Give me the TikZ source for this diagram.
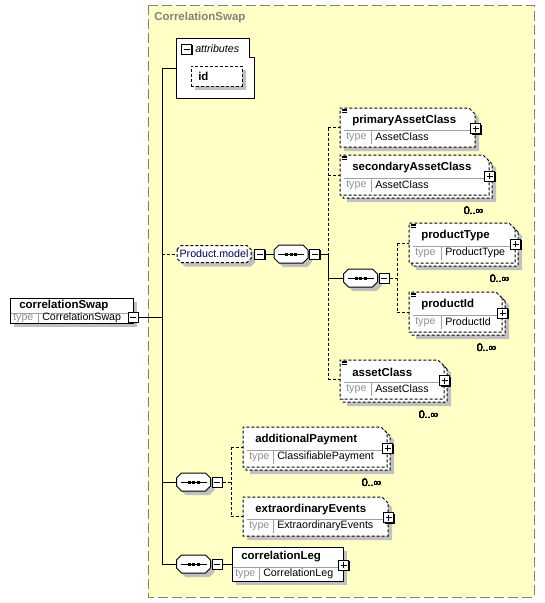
\documentclass[tikz,border=0pt]{standalone}
\usepackage{fontspec}
\setmainfont{Liberation Sans}
\usetikzlibrary{shapes.misc,fit,positioning}
\definecolor{boxyellow}{RGB}{255,255,198}
\definecolor{shadowgray}{RGB}{192,192,192}
\definecolor{framegray}{RGB}{128,128,128}
\definecolor{typegray}{RGB}{145,145,145}
\definecolor{linegray}{RGB}{160,160,160}
\definecolor{groupblue}{RGB}{0,0,90}
\tikzset{
    req/.style={draw, fill=white, line width=0.75pt},
    opt/.style={chamfered rectangle, chamfered rectangle corners=north east,
        chamfered rectangle sep=2.25pt, draw, fill=white, line width=0.75pt,
        dash pattern=on 2.25pt off 1.5pt},
    shade/.style={preaction={fill=shadowgray, transform canvas={shift={(4,4)}}}},
    many/.style={preaction={fill=shadowgray, transform canvas={shift={(7,7)}}},
        preaction={draw, fill=white, dash pattern=on 2.25pt off 1.5pt,
            transform canvas={shift={(3,3)}}}},
    divider/.style={draw=linegray, line width=0.75pt},
    elname/.style={font=\fontsize{8.6}{10}\selectfont\bfseries, inner sep=0pt, anchor=west},
    eltype/.style={font=\fontsize{8}{10}\selectfont, inner sep=0pt, anchor=west},
    typelbl/.style={eltype, text=typegray},
    mult/.style={font=\fontsize{8}{10}\selectfont, inner sep=0pt, anchor=east},
    btn/.style={draw, fill=white, line width=0.75pt, minimum size=7.5pt, inner sep=0pt,
        preaction={fill=black, transform canvas={shift={(1,1)}}}},
    plusbox/.style={btn, path picture={
        \draw[line width=0.75pt] ([xshift=1.5pt]path picture bounding box.west) -- ([xshift=-1.5pt]path picture bounding box.east)
            ([yshift=-1.5pt]path picture bounding box.north) -- ([yshift=1.5pt]path picture bounding box.south);}},
    minusbox/.style={btn, path picture={
        \draw[line width=0.75pt] ([xshift=1.5pt]path picture bounding box.west) -- ([xshift=-1.5pt]path picture bounding box.east);}},
    link/.style={line width=0.75pt},
    optlink/.style={line width=0.75pt, dash pattern=on 2.25pt off 1.5pt}
}
% element box: name, style, x1, y1, x2, y2, type divider, label, type
\newcommand{\typerow}{14}
\newcommand{\xsdelem}[9]{%
    \node[fit={(#3,#4) (#5,#6)}, inner sep=0pt, #2] (#1) {};
    \pgfmathsetmacro{\ydiv}{#6-\typerow}
    \draw[divider] (#3+0.5,\ydiv) -- (#5-0.5,\ydiv);
    \draw[divider] (#7,\ydiv) -- (#7,#6-0.5);
    \node[elname] at (#3+9,{(#4+\ydiv)/2}) {#8};
    \node[typelbl] at (#3+3,{(\ydiv+#6)/2}) {type};
    \node[eltype] at (#7+4,{(\ydiv+#6)/2}) {#9};
}
% octagon outline: half width, half height, chamfer
\newcommand{\octpath}[3]{(-#1,-#2+#3) -- (-#1+#3,-#2) -- (#1-#3,-#2) -- (#1,-#2+#3)
    -- (#1,#2-#3) -- (#1-#3,#2) -- (-#1+#3,#2) -- (-#1,#2-#3) -- cycle}
% sequence compositor: name, x, y
\newcommand{\xsdseq}[3]{%
    \begin{scope}[shift={(#2,#3)}]
        \fill[shadowgray, shift={(4,4)}] \octpath{17}{9}{5};
        \draw[fill=white, line width=0.75pt] \octpath{17}{9}{5};
        \draw[line width=0.75pt] (-13,0) -- (13,0);
        \foreach \d in {-4.5,0,4.5}
            \fill (\d-1.5,-1.5) rectangle (\d+1.5,1.5);
        \node[inner sep=0pt, minimum width=25.5pt, minimum height=13.5pt] (#1) at (0,0) {};
    \end{scope}
}
% annotation mark
\newcommand{\xsdnote}[1]{%
    \draw[line width=0.5pt] \foreach \k in {1.5,3,4.5} {([shift={(2,\k)}]#1.north west) -- ++(5,0)};
}

\begin{document}
\begin{tikzpicture}[x=0.75pt, y=-0.75pt]
\useasboundingbox (0,0) rectangle (545,603);
\fill[white] (0,0) rectangle (545,603);

% complex type frame
\draw[framegray, fill=boxyellow, line width=0.75pt, dash pattern=on 7.5pt off 3pt] (148,5) rectangle (534,597);
\node[font=\fontsize{8.6}{10}\selectfont\bfseries, text=framegray, anchor=west, inner sep=0pt] (title) at (154,18) {CorrelationSwap};

% root element
\renewcommand{\typerow}{10}
\xsdelem{csw}{req, shade}{10}{298}{133}{323}{38}{correlationSwap}{CorrelationSwap}
\renewcommand{\typerow}{14}
\node[minusbox] (csw-x) at (133,317) {};
\coordinate (trunk) at (162,68);

% attributes
\node[fit={(176,38) (254,98)}, inner sep=0pt] (attr) {};
\draw[fill=white, line width=0.75pt] (176,38) -- (249,38) -- (249,57) -- (254,57) -- (254,98) -- (176,98) -- cycle;
\node[minusbox] (attr-x) at (186.5,49) {};
\node[font=\fontsize{8}{10}\selectfont\itshape, anchor=west, inner sep=0pt] at (195,48.5) {attributes};
\node[fit={(191,66) (242,86)}, inner sep=0pt, draw, fill=white, line width=0.75pt,
    dash pattern=on 2.25pt off 1.5pt, shade] (id) {};
\node[elname] at (198,76) {id};

% Product.model group
\begin{scope}[shift={(214,254)}]
    \fill[shadowgray, shift={(4,4)}] \octpath{37}{8.5}{4};
    \draw[fill=white, line width=0.75pt, dash pattern=on 2.25pt off 1.5pt] \octpath{37}{8.5}{4};
    \node[inner sep=0pt, minimum width=55.5pt, minimum height=12.75pt,
        font=\fontsize{8}{10}\selectfont, text=groupblue] (pm) at (0,0) {Product.model};
\end{scope}
\node[minusbox, anchor=west] (pm-x) at ([shift={(3,0)}]pm.east) {};
\xsdseq{s1}{291}{254}
\node[minusbox, anchor=west] (s1-x) at ([shift={(1,0)}]s1.east) {};
\coordinate (b1) at (328,254);

\xsdelem{pac}{opt, shade}{343}{111}{472}{144}{371}{primaryAssetClass}{AssetClass}
\xsdelem{sac}{opt, many}{343}{158}{486}{192}{371}{secondaryAssetClass}{AssetClass}
\xsdelem{ac}{opt, many}{343}{363}{441}{396}{371}{assetClass}{AssetClass}

\xsdseq{s4}{360.5}{278}
\node[minusbox, anchor=west] (s4-x) at ([shift={(1,0)}]s4.east) {};
\coordinate (b2) at (397,278);
\xsdelem{pt}{opt, many}{412}{226}{512}{260}{441}{productType}{ProductType}
\xsdelem{pid}{opt, many}{412}{295}{499}{329}{441}{productId}{ProductId}

% lower sequences
\xsdseq{s2}{193.5}{482}
\node[minusbox, anchor=west] (s2-x) at ([shift={(1,0)}]s2.east) {};
\coordinate (b3) at (231,482);
\xsdelem{addp}{opt, many}{246}{430}{384}{464}{273}{additionalPayment}{ClassifiablePayment}
\xsdelem{ext}{opt, shade}{246}{500}{385}{533}{273}{extraordinaryEvents}{ExtraordinaryEvents}

\xsdseq{s3}{193.5}{564}
\node[minusbox, anchor=west] (s3-x) at ([shift={(1,0)}]s3.east) {};
\xsdelem{cleg}{req, shade}{232}{547}{343}{581}{259}{correlationLeg}{CorrelationLeg}

\foreach \e in {pac,sac,pt,pid,ac,addp,ext,cleg}
    \node[plusbox] (\e-x) at ([shift={(0,1)}]\e.east) {};
\foreach \e in {pac,sac,pt,pid,ac}
    \xsdnote{\e}
\foreach \e in {sac,pt,pid,ac,addp}
    \node[mult] at ([shift={(-6,15)}]\e.south east) {0..∞};

% connectors
\draw[link] (csw-x.east) -- (csw-x.east -| trunk);
\draw[link] (trunk) -- (trunk |- s3.west);
\draw[link] (trunk) -- (trunk -| attr.west);
\draw[optlink] (trunk |- pm.west) -- ([shift={(-37,0)}]pm.center);
\draw[link] (trunk |- s2.west) -- (s2.west);
\draw[link] (trunk |- s3.west) -- (s3.west);

\draw[link] (pm-x.east) -- (s1.west);
\draw[link] (s1-x.east) -- (b1);
\draw[optlink] (b1 |- pac.west) -- (b1 |- ac.west);
\draw[optlink] (b1 |- pac.west) -- (pac.west);
\draw[optlink] (b1 |- sac.west) -- (sac.west);
\draw[optlink] (b1 |- ac.west) -- (ac.west);
\draw[link] (b1) |- (s4.west);

\draw[optlink] (s4-x.east) -- (b2);
\draw[optlink] (b2 |- pt.west) -- (b2 |- pid.west);
\draw[optlink] (b2 |- pt.west) -- (pt.west);
\draw[optlink] (b2 |- pid.west) -- (pid.west);

\draw[optlink] (s2-x.east) -- (b3);
\draw[optlink] (b3 |- addp.west) -- (b3 |- ext.west);
\draw[optlink] (b3 |- addp.west) -- (addp.west);
\draw[optlink] (b3 |- ext.west) -- (ext.west);

\draw[link] (s3-x.east) -- (cleg.west);
\end{tikzpicture}
\end{document}
